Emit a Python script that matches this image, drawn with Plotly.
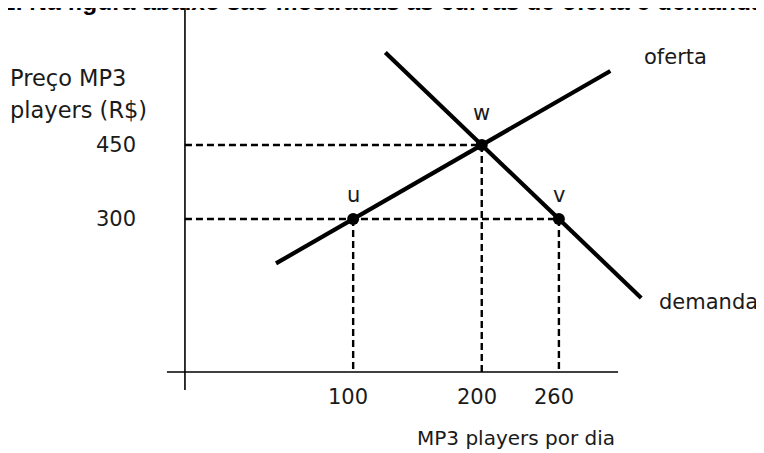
import plotly.graph_objects as go

# ---- data ----
point_labels = ["u", "w", "v"]
point_qty = [100, 200, 260]
point_price = [300, 450, 300]

supply_qty = [40, 300]
supply_price = [210, 600]

demand_qty = [125, 324]
demand_price = [637.5, 140]

x_ticks = [100, 200, 260]
y_ticks = [300, 450]

# ---- drawing geometry (style only) ----
X_RANGE = [-168.4, 425.7]
Y_RANGE = [-190.6, 727.8]
YAXIS_X = -30.8          # vertical axis line position (x units)
XAXIS_Y = -10.1          # horizontal axis line position (y units)
LABEL_LIFT = [24, 32, 24]  # px above each point for its letter

FONT = "DejaVu Sans"
FS = 21
W, H = 764, 453
INK = "#1a1a1a"


def px_x(v):
    return v / W


def px_y(v):
    return 1 - v / H


fig = go.Figure()

# axis lines
fig.add_shape(type="line", xref="x", yref="y", x0=YAXIS_X, x1=YAXIS_X, y0=-46.6, y1=727.7,
              line=dict(color="black", width=1.6))
fig.add_shape(type="line", xref="x", yref="y", x0=-44.8, x1=306, y0=XAXIS_Y, y1=XAXIS_Y,
              line=dict(color="black", width=1.6))

# dashed guides
dash = dict(color="black", width=2.4, dash="7px,4px")
for q, p in zip(point_qty, point_price):
    fig.add_trace(go.Scatter(x=[q, q], y=[p, XAXIS_Y], mode="lines", line=dash, hoverinfo="skip"))
fig.add_trace(go.Scatter(x=[YAXIS_X, point_qty[1]], y=[point_price[1], point_price[1]], mode="lines",
                         line=dash, hoverinfo="skip"))
fig.add_trace(go.Scatter(x=[YAXIS_X, point_qty[2]], y=[point_price[2], point_price[2]], mode="lines",
                         line=dash, hoverinfo="skip"))

# supply and demand
fig.add_trace(go.Scatter(x=supply_qty, y=supply_price, mode="lines",
                         line=dict(color="black", width=4.2), name="oferta"))
fig.add_trace(go.Scatter(x=demand_qty, y=demand_price, mode="lines",
                         line=dict(color="black", width=4.2), name="demanda"))

# points
fig.add_trace(go.Scatter(x=point_qty, y=point_price, mode="markers",
                         marker=dict(color="black", size=12), name="pontos"))

ann = []
fnt = dict(family=FONT, size=FS, color=INK)
for lab, q, p, lift in zip(point_labels, point_qty, point_price, LABEL_LIFT):
    ann.append(dict(x=q, y=p, xref="x", yref="y", text=lab, showarrow=False, yshift=lift, font=fnt))
for t in x_ticks:
    ann.append(dict(x=t, y=XAXIS_Y, xref="x", yref="y", text=str(t), showarrow=False,
                    xshift=-5, yshift=-25, font=fnt))
for t in y_ticks:
    ann.append(dict(x=YAXIS_X, y=t, xref="x", yref="y", text=str(t), showarrow=False,
                    xanchor="right", xshift=-47, yshift=0, font=fnt))

left_font = dict(family=FONT, size=22.5, color=INK)
ann.append(dict(x=px_x(0), y=px_y(70), xref="paper", yref="paper", text="Preço MP3",
                showarrow=False, xanchor="left", yanchor="middle", font=left_font))
ann.append(dict(x=px_x(0), y=px_y(102), xref="paper", yref="paper", text="players (R$)",
                showarrow=False, xanchor="left", yanchor="middle", font=left_font))
ann.append(dict(x=supply_qty[1], y=supply_price[1], xref="x", yref="y", text="oferta",
                showarrow=False, xanchor="left", yanchor="middle", xshift=32, yshift=14, font=fnt))
ann.append(dict(x=demand_qty[1], y=demand_price[1], xref="x", yref="y", text="demanda",
                showarrow=False, xanchor="left", yanchor="middle", xshift=16, yshift=-4, font=fnt))
ann.append(dict(x=px_x(407), y=px_y(430), xref="paper", yref="paper", text="MP3 players por dia",
                showarrow=False, xanchor="left", yanchor="middle",
                font=dict(family=FONT, size=20, color=INK)))
ann.append(dict(x=px_x(-8), y=px_y(9.5), xref="paper", yref="paper",
                text="<b>2. Na figura abaixo são mostradas as curvas de oferta e demanda</b>",
                showarrow=False, xanchor="left", yanchor="bottom",
                font=dict(family="Liberation Sans", size=24.5, color="black")))

fig.update_layout(
    width=W, height=H,
    margin=dict(l=0, r=0, t=0, b=0),
    paper_bgcolor="white", plot_bgcolor="white",
    showlegend=False,
    xaxis=dict(range=X_RANGE, visible=False, fixedrange=True),
    yaxis=dict(range=Y_RANGE, visible=False, fixedrange=True),
    annotations=ann,
)

fig.write_html("out.html")
